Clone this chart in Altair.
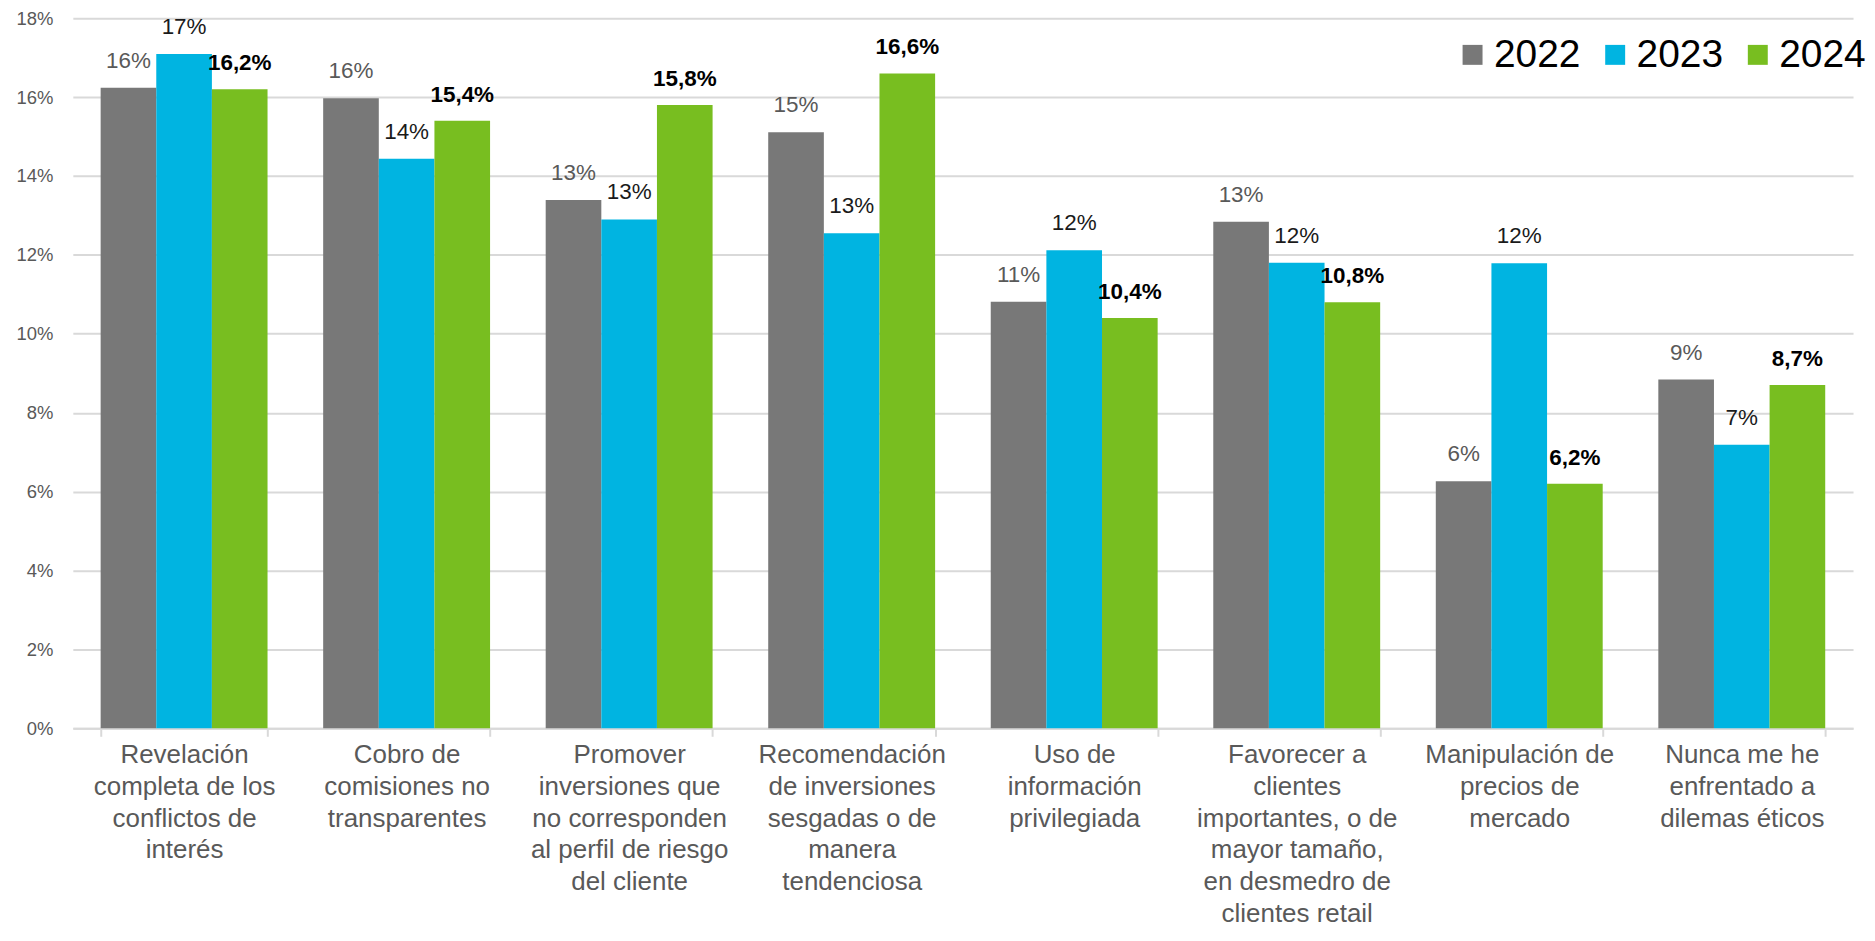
import altair as alt
import pandas as pd

categories = [
    "Revelación|completa de los|conflictos de|interés",
    "Cobro de|comisiones no|transparentes",
    "Promover|inversiones que|no corresponden|al perfil de riesgo|del cliente",
    "Recomendación|de inversiones|sesgadas o de|manera|tendenciosa",
    "Uso de|información|privilegiada",
    "Favorecer a|clientes|importantes, o de|mayor tamaño,|en desmedro de|clientes retail",
    "Manipulación de|precios de|mercado",
    "Nunca me he|enfrentado a|dilemas éticos",
]
years = ["2022", "2023", "2024"]
values_2022 = [16.24, 15.97, 13.39, 15.11, 10.81, 12.84, 6.26, 8.84]
values_2023 = [17.09, 14.44, 12.90, 12.55, 12.12, 11.80, 11.79, 7.19]
values_2024 = [16.2, 15.4, 15.8, 16.6, 10.4, 10.8, 6.2, 8.7]
y_ticks = [0, 2, 4, 6, 8, 10, 12, 14, 16, 18]

rows = []
for yr, vals in zip(years, [values_2022, values_2023, values_2024]):
    for c, v in zip(categories, vals):
        rows.append({"categoria": c, "anio": yr, "valor": v})
df = pd.DataFrame(rows)

FONT = "Liberation Sans"
colors = ["#787878", "#00B4E1", "#78BE20"]

base = alt.Chart(df).encode(
    x=alt.X(
        "categoria:N",
        sort=categories,
        scale=alt.Scale(paddingInner=0.25, paddingOuter=0.125),
        axis=alt.Axis(
            title=None,
            labelAngle=0,
            labelExpr="split(datum.label, '|')",
            labelFontSize=26,
            labelLineHeight=32,
            labelColor="#595959",
            labelFont=FONT,
            labelPadding=5,
            labelBaseline="top",
            labelLimit=400,
            domainColor="#D9D9D9",
            domainWidth=2,
            tickColor="#D9D9D9",
            tickWidth=2,
            tickSize=8,
            tickBand="extent",
        ),
    ),
    xOffset=alt.XOffset("anio:N", sort=years, scale=alt.Scale(paddingInner=0, paddingOuter=0)),
)

bars = base.mark_bar().encode(
    y=alt.Y(
        "valor:Q",
        scale=alt.Scale(domain=[0, 18], nice=False),
        axis=alt.Axis(
            title=None,
            values=y_ticks,
            labelExpr="datum.value + '%'",
            grid=True,
            gridColor="#D9D9D9",
            gridWidth=2,
            domain=False,
            ticks=False,
            labelFontSize=18.5,
            labelFont=FONT,
            labelColor="#595959",
            labelPadding=20,
        ),
    ),
    color=alt.Color(
        "anio:N",
        scale=alt.Scale(domain=years, range=colors),
        legend=alt.Legend(
            title=None,
            orient="none",
            legendX=1384,
            legendY=17,
            direction="horizontal",
            symbolType="square",
            symbolSize=400,
            symbolStrokeWidth=0,
            labelFontSize=39,
            labelFont=FONT,
            labelColor="#000000",
            labelOffset=2,
            columnPadding=15,
        ),
    ),
)

lab22 = base.transform_filter(alt.datum.anio == "2022").transform_calculate(
    lbl="format(datum.valor, '.0f') + '%'"
).mark_text(
    font=FONT, fontSize=22.5, color="#595959", baseline="alphabetic", dy=-20
).encode(y="valor:Q", text="lbl:N")

lab23 = base.transform_filter(alt.datum.anio == "2023").transform_calculate(
    lbl="format(datum.valor, '.0f') + '%'"
).mark_text(
    font=FONT, fontSize=22.5, color="#1A1A1A", baseline="alphabetic", dy=-20
).encode(y="valor:Q", text="lbl:N")

lab24 = base.transform_filter(alt.datum.anio == "2024").transform_calculate(
    lbl="replace(format(datum.valor, '.1f'), '.', ',') + '%'"
).mark_text(
    font=FONT, fontSize=22.5, fontWeight="bold", color="#000000", baseline="alphabetic", dy=-19
).encode(y="valor:Q", text="lbl:N")

chart = alt.layer(bars, lab22, lab23, lab24).properties(
    width=1785,
    height=712,
    padding={"left": 65, "top": 9, "right": 14, "bottom": 200},
    autosize="none",
).configure_view(stroke=None)

chart.save("out.html", embed_options={"renderer": "svg", "actions": False})
